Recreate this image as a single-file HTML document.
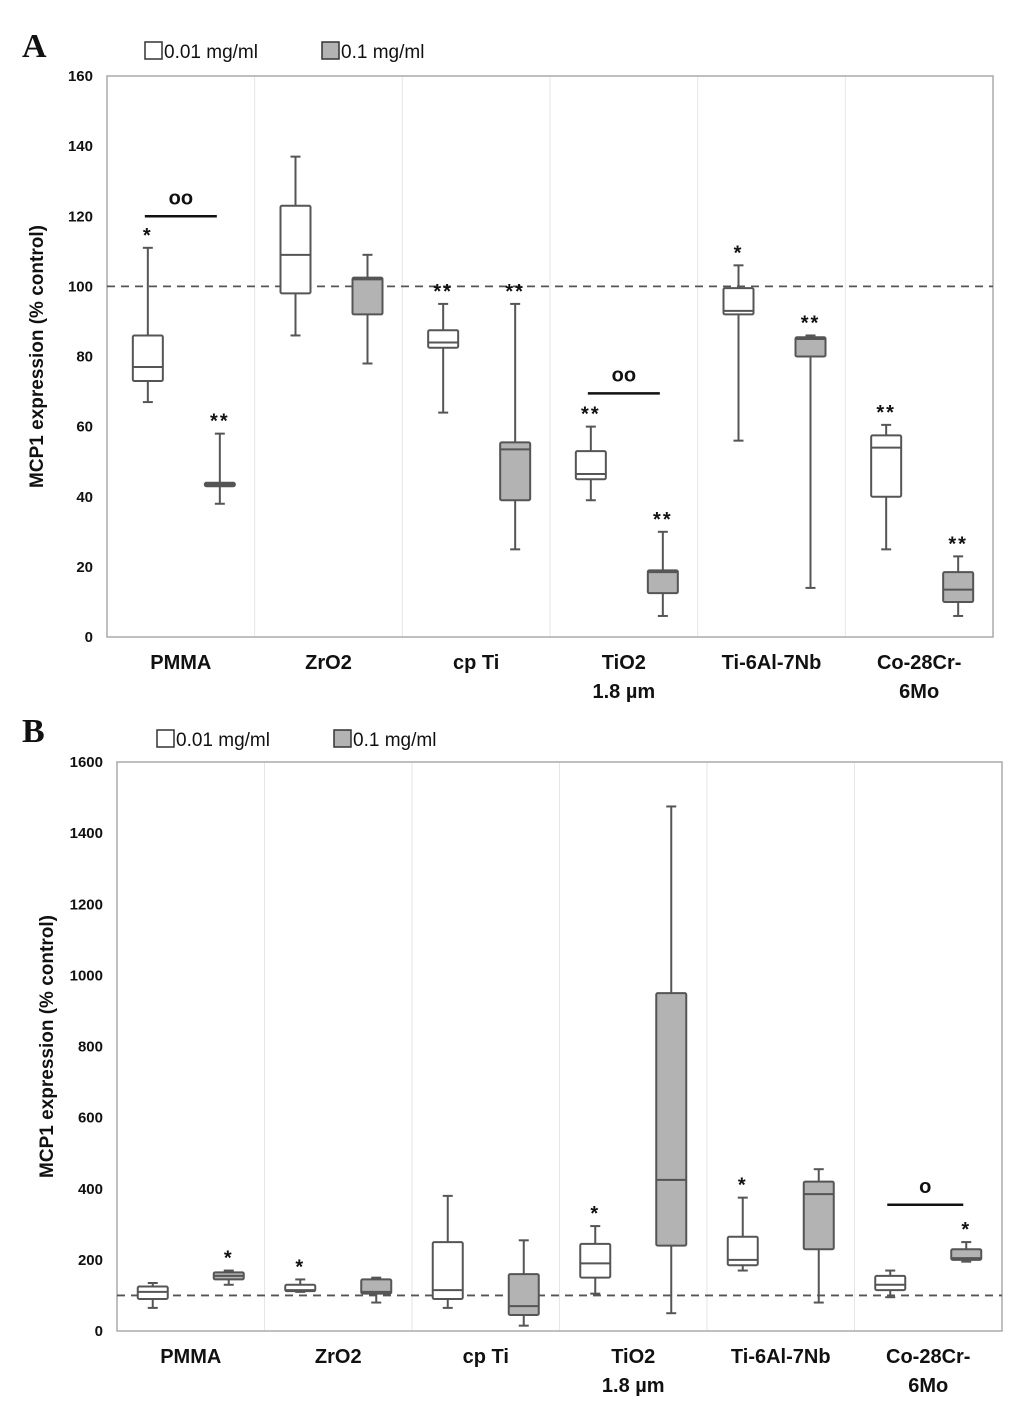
<!DOCTYPE html>
<html><head><meta charset="utf-8">
<style>
body{margin:0;background:#fff;width:1033px;height:1406px;overflow:hidden}
svg{display:block}
text{font-family:"Liberation Sans",sans-serif;fill:#111}
</style></head>
<body>
<svg id="chart" width="1033" height="1406" viewBox="0 0 1033 1406" xmlns="http://www.w3.org/2000/svg"></svg>
<script>
const categoriesA = ["PMMA","ZrO2","cp Ti","TiO2|1.8 µm","Ti-6Al-7Nb","Co-28Cr-|6Mo"];
const lowA = [[67,73,77,86,111],[86,98,109,123,137],[64,82.5,84,87.5,95],[39,45,46.5,53,60],[56,92,93,99.5,106],[25,40,54,57.5,60.5]];
const highA = [[38,43,43.5,44,58],[78,92,102,102.5,109],[25,39,53.5,55.5,95],[6,12.5,18.5,19,30],[14,80,85,85.5,86],[6,10,13.5,18.5,23]];
const starsLowA = ["*","","**","**","*","**"];
const starsHighA = ["**","","**","**","**","**"];
const ticksA = [0,20,40,60,80,100,120,140,160];
const lowB = [[65,90,110,125,135],[110,112,115,130,145],[65,90,115,250,380],[105,150,190,245,295],[170,185,200,265,375],[95,115,130,155,170]];
const highB = [[130,145,155,165,170],[80,105,110,145,150],[15,45,70,160,255],[50,240,425,950,1475],[80,230,385,420,455],[195,200,205,230,250]];
const starsLowB = ["","*","","*","*",""];
const starsHighB = ["*","","","","","*"];
const ticksB = [0,200,400,600,800,1000,1200,1400,1600];
const NS="http://www.w3.org/2000/svg";
const svg=document.getElementById('chart');
function mk(tag,attrs,parent,txt){const e=document.createElementNS(NS,tag);for(const k in attrs)e.setAttribute(k,attrs[k]);if(txt!==undefined)e.textContent=txt;(parent||svg).appendChild(e);return e;}

function panel(p){
  const g=mk('g',{});
  
  
  const y=v=>p.y0-(v-p.min)/(p.max-p.min)*(p.y0-p.y1);
  const n=6, gw=(p.x1-p.x0)/n;
  const cx=i=>p.x0+gw*(i+0.5);
  // separators
  for(let i=1;i<n;i++){const l=mk('line',{x1:p.x0+gw*i,x2:p.x0+gw*i,y1:p.y1,y2:p.y0,stroke:'#e6e6e6','stroke-width':1},g);
    }
  // frame
  const fr=mk('rect',{x:p.x0,y:p.y1,width:p.x1-p.x0,height:p.y0-p.y1,fill:'none',stroke:'#aaa','stroke-width':1.5},g);
  
  // ticks
  p.ticks.forEach(t=>{const tx=mk('text',{x:p.x0-14,y:y(t)+5,'text-anchor':'end','font-size':15,'font-weight':'bold'},g,t);
    });
  // y title
  const yt=mk('text',{x:0,y:0,transform:`translate(${p.x0-64},${(p.y0+p.y1)/2}) rotate(-90)`,'text-anchor':'middle','font-size':19,'font-weight':'bold'},g,'MCP1 expression (% control)');
  
  // dashed
  const dl=mk('line',{x1:p.x0,x2:p.x1,y1:y(100),y2:y(100),stroke:'#555','stroke-width':1.8,'stroke-dasharray':'8,6'},g);
  
  // boxes
  function box(d,x,fill,star,name){
    const bw=30;
    const bg=mk('g',{},g);
    mk('line',{x1:x,x2:x,y1:y(d[0]),y2:y(d[4]),stroke:'#555','stroke-width':2},bg);
    mk('line',{x1:x-5,x2:x+5,y1:y(d[0]),y2:y(d[0]),stroke:'#555','stroke-width':2},bg);
    mk('line',{x1:x-5,x2:x+5,y1:y(d[4]),y2:y(d[4]),stroke:'#555','stroke-width':2},bg);
    mk('rect',{x:x-bw/2,y:y(d[3]),width:bw,height:Math.max(1,y(d[1])-y(d[3])),fill:fill,stroke:'#555','stroke-width':2,rx:1.5},bg);
    mk('line',{x1:x-bw/2,x2:x+bw/2,y1:y(d[2]),y2:y(d[2]),stroke:'#555','stroke-width':2},bg);
    if(star){const s=mk('text',{x:x,y:y(d[4])-6,'text-anchor':'middle','font-size':20,'font-weight':'bold','letter-spacing':'2'},bg,star);
      }
  }
  for(let i=0;i<n;i++){
    box(p.low[i],cx(i)+p.offL,'#fff',p.sL[i],'box-low-'+i);
    box(p.high[i],cx(i)+p.offH,'#b3b3b3',p.sH[i],'box-high-'+i);
    const parts=categoriesA[i].split('|');
    parts.forEach((s,j)=>{const t=mk('text',{x:cx(i)+p.labOff,y:p.y0+32+j*29,'text-anchor':'middle','font-size':20,'font-weight':'bold'},g,s);
      });
  }
  // brackets
  p.brackets.forEach(b=>{
    const i=b.i, yy=y(b.v);
    const l=mk('line',{x1:cx(i)+p.offL-3,x2:cx(i)+p.offH-3,y1:yy,y2:yy,stroke:'#111','stroke-width':2.5},g);
    
    const t=mk('text',{x:cx(i)+(p.offL+p.offH)/2-3,y:yy-12,'text-anchor':'middle','font-size':20,'font-weight':'bold'},g,b.s);
    
  });
  // legend
  const lg=mk('g',{},g);
  const l1=mk('g',{},lg);
  mk('rect',{x:p.legX,y:p.legY-16,width:17,height:17,fill:'#fff',stroke:'#333','stroke-width':1.5},l1);
  mk('text',{x:p.legX+19,y:p.legY,'font-size':19},l1,'0.01 mg/ml');
  const l2=mk('g',{},lg);
  mk('rect',{x:p.legX+177,y:p.legY-16,width:17,height:17,fill:'#b3b3b3',stroke:'#333','stroke-width':1.5},l2);
  mk('text',{x:p.legX+196,y:p.legY,'font-size':19},l2,'0.1 mg/ml');
  const pl=mk('text',{x:p.letterX,y:p.letterY,'font-size':34,'font-weight':'bold',style:'font-family:"Liberation Serif",serif'},g,p.letter);
  
}
panel({name:'panel-a',x0:107,x1:993,y0:637,y1:76,min:0,max:160,ticks:ticksA,low:lowA,high:highA,sL:starsLowA,sH:starsHighA,
  offL:-33,offH:39,labOff:0,brackets:[{i:0,v:120,s:'oo'},{i:3,v:69.5,s:'oo'}],legX:145,legY:58,letter:'A',letterX:22,letterY:57});
panel({name:'panel-b',x0:117,x1:1002,y0:1331,y1:762,min:0,max:1600,ticks:ticksB,low:lowB,high:highB,sL:starsLowB,sH:starsHighB,
  offL:-38,offH:38,labOff:0,brackets:[{i:5,v:355,s:'o'}],legX:157,legY:746,letter:'B',letterX:22,letterY:742});
</script>
</body></html>
